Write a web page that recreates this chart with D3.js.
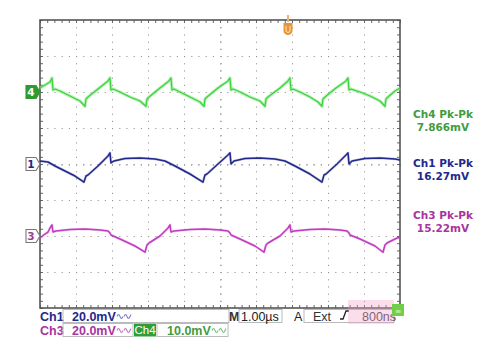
<!DOCTYPE html>
<html>
<head>
<meta charset="utf-8">
<script src="https://cdn.jsdelivr.net/npm/d3@7"></script>
<style>
  html, body { margin: 0; padding: 0; background: #fff; }
  svg { display: block; }
  text { font-family: "DejaVu Sans", "Liberation Sans", sans-serif; }
  text.ro { font-family: "Liberation Sans", Arial, sans-serif; }
</style>
</head>
<body>
<svg id="scope" width="477" height="341"></svg>
<script>
// Time axis: 1.00 µs/div, 10 divisions
const timeDomain = [0, 10];
const divDomain = [-4, 4];

// Channel 1 (20 mV/div, centred) — [µs, mV]
const ch1 = [
  [0,1.67],[0.222,1.11],[0.417,-1.11],[0.694,-3.89],[0.972,-6.67],[1.222,-10.07],
  [1.278,-6.67],[1.333,-6.11],[1.611,-1.11],[1.889,4.44],[1.944,6.2],[1.972,0.56],
  [2.056,1.67],[2.361,3.06],[2.778,3.33],[3.194,2.78],[3.472,1.67],[3.75,-1.11],
  [4.167,-5.56],[4.528,-10.07],[4.583,-6.11],[4.639,-5.56],[4.944,0],[5.222,5.0],
  [5.278,6.2],[5.306,0],[5.389,1.67],[5.694,3.06],[6.111,3.33],[6.528,2.78],
  [6.806,1.67],[7.083,-1.11],[7.5,-5.56],[7.833,-10.07],[7.889,-6.11],[7.944,-5.56],
  [8.25,0],[8.5,5.0],[8.556,6.2],[8.583,0],[8.667,1.67],[9.028,3.06],[9.444,3.33],
  [9.861,2.78],[10,2.22]
];

// Channel 3 (20 mV/div, 2 div below centre)
const ch3 = [
  [0,-1.11],[0.139,1.11],[0.222,2.22],[0.278,4.44],[0.333,6.2],[0.361,2.22],[0.444,2.78],
  [0.833,3.61],[1.25,3.89],[1.667,3.33],[1.889,2.78],[1.944,1.67],[1.972,0.56],
  [2.222,-1.67],[2.639,-5.56],[2.917,-9.02],[2.972,-5.0],[3.028,-3.89],[3.333,0],
  [3.556,4.44],[3.611,6.2],[3.639,2.22],[3.722,2.78],[4.167,3.61],[4.583,3.89],
  [5.0,3.33],[5.222,2.78],[5.278,1.67],[5.306,0.56],[5.556,-1.67],[5.972,-5.56],
  [6.222,-9.02],[6.278,-5.0],[6.333,-3.89],[6.667,0],[6.889,4.44],[6.944,6.2],
  [6.972,2.22],[7.056,2.78],[7.5,3.61],[7.917,3.89],[8.333,3.33],[8.528,2.78],
  [8.583,1.67],[8.611,0.56],[8.889,-1.67],[9.306,-5.56],[9.528,-9.02],[9.583,-5.0],
  [9.639,-3.89],[9.861,-1.67],[10,-0.56]
];

// Channel 4 (10 mV/div, 2 div above centre)
const ch4 = [
  [0,1.11],[0.139,1.94],[0.278,2.78],[0.333,3.9],[0.361,0.56],[0.417,0.83],[0.556,0.28],
  [0.833,-1.11],[1.111,-2.5],[1.25,-3.97],[1.278,-1.94],[1.333,-1.39],[1.611,0.83],
  [1.889,3.06],[1.944,3.9],[1.972,0.56],[2.028,0.83],[2.222,0],[2.5,-1.39],[2.778,-2.5],
  [2.944,-3.97],[2.972,-1.94],[3.028,-1.39],[3.333,1.11],[3.583,3.06],[3.639,3.9],
  [3.667,0.56],[3.722,0.83],[3.889,0],[4.167,-1.39],[4.444,-2.78],[4.556,-3.97],
  [4.583,-1.94],[4.639,-1.39],[4.944,1.11],[5.222,3.06],[5.278,3.9],[5.306,0.56],
  [5.361,0.83],[5.556,0],[5.833,-1.39],[6.111,-2.5],[6.25,-3.97],[6.278,-1.94],
  [6.333,-1.39],[6.667,1.11],[6.889,3.06],[6.944,3.9],[6.972,0.56],[7.028,0.83],
  [7.222,0],[7.5,-1.39],[7.722,-2.78],[7.833,-3.97],[7.861,-1.94],[7.917,-1.39],
  [8.222,1.11],[8.5,3.06],[8.556,3.9],[8.583,0.56],[8.639,0.83],[8.889,0],[9.167,-1.11],
  [9.444,-2.5],[9.583,-3.97],[9.611,-1.94],[9.667,-1.39],[9.861,0.28],[10,1.11]
];

// Channel settings: volts/div and position (divisions)
const channelNames = ["Ch4", "Ch1", "Ch3"];
const channelScales = [10, 20, 20];      // mV/div
const channelOffsets = [2, 0, -2];       // divisions
const channelColors = ["#3ed23e", "#22288c", "#c03cc0"];
const pkpkLabels = ["7.866mV", "16.27mV", "15.22mV"];
const readoutScales = ["10.0mV", "20.0mV", "20.0mV"];
const timebase = "1.00µs";
const triggerText = "800ns";

const svg = d3.select("#scope");
const L = 40, T = 20, R = 400, B = 308;

const x = d3.scaleLinear().domain(timeDomain).range([L, R]);
const yDiv = d3.scaleLinear().domain(divDomain).range([B, T]);

function chScale(i) {
  const s = channelScales[i], o = channelOffsets[i];
  return d3.scaleLinear()
    .domain([(divDomain[0] - o) * s, (divDomain[1] - o) * s])
    .range([B, T]);
}

// graticule: dotted division lines
const gridColor = "#9a9a9a";
const xGrid = d3.axisBottom(x).tickValues(d3.range(1, 10)).tickSize(B - T).tickFormat("");
svg.append("g").attr("transform", `translate(0,${T})`).call(xGrid)
  .call(g => g.select(".domain").remove())
  .selectAll("line").attr("stroke", gridColor).attr("stroke-width", 1)
  .attr("stroke-dasharray", "1.2,6");
const yGrid = d3.axisRight(yDiv).tickValues(d3.range(-3, 4)).tickSize(R - L).tickFormat("");
svg.append("g").attr("transform", `translate(${L},0)`).call(yGrid)
  .call(g => g.select(".domain").remove())
  .selectAll("line").attr("stroke", gridColor).attr("stroke-width", 1)
  .attr("stroke-dasharray", "1.2,6");

// minor ticks along the centre crosshair
const minorX = d3.range(0, 10.01, 0.2);
const minorY = d3.range(-4, 4.01, 0.2);
svg.append("g").attr("transform", `translate(0,${yDiv(0)})`)
  .call(d3.axisBottom(x).tickValues(minorX).tickSize(2).tickFormat(""))
  .call(g => g.select(".domain").remove())
  .selectAll("line").attr("stroke", "#aaa");
svg.append("g").attr("transform", `translate(${x(5)},0)`)
  .call(d3.axisRight(yDiv).tickValues(minorY).tickSize(2).tickFormat(""))
  .call(g => g.select(".domain").remove())
  .selectAll("line").attr("stroke", "#aaa");

// frame ticks (inward)
const frameTick = "#666";
svg.append("g").attr("transform", `translate(0,${T})`)
  .call(d3.axisBottom(x).tickValues(minorX).tickSize(3).tickFormat(""))
  .call(g => g.select(".domain").remove()).selectAll("line").attr("stroke", frameTick);
svg.append("g").attr("transform", `translate(0,${B})`)
  .call(d3.axisTop(x).tickValues(minorX).tickSize(3).tickFormat(""))
  .call(g => g.select(".domain").remove()).selectAll("line").attr("stroke", frameTick);
svg.append("g").attr("transform", `translate(${L},0)`)
  .call(d3.axisRight(yDiv).tickValues(minorY).tickSize(3).tickFormat(""))
  .call(g => g.select(".domain").remove()).selectAll("line").attr("stroke", frameTick);
svg.append("g").attr("transform", `translate(${R},0)`)
  .call(d3.axisLeft(yDiv).tickValues(minorY).tickSize(3).tickFormat(""))
  .call(g => g.select(".domain").remove()).selectAll("line").attr("stroke", frameTick);

// frame
svg.append("rect").attr("x", L).attr("y", T).attr("width", R - L).attr("height", B - T)
  .attr("fill", "none").attr("stroke", "#555").attr("stroke-width", 1.6);

// traces
const traces = [ch4, ch1, ch3];
traces.forEach((data, i) => {
  const y = chScale(i);
  const line = d3.line().x(d => x(d[0])).y(d => y(d[1]));
  if (i === 0) {
    svg.append("path").datum(data).attr("d", line)
      .attr("fill", "none").attr("stroke", "#8ee88e").attr("stroke-width", 3.2)
      .attr("stroke-opacity", 0.6).attr("stroke-linejoin", "round");
  } else {
    svg.append("path").datum(data).attr("d", line)
      .attr("fill", "none").attr("stroke", channelColors[i]).attr("stroke-width", 2.6)
      .attr("stroke-opacity", 0.25).attr("stroke-linejoin", "round");
  }
  svg.append("path").datum(data).attr("d", line)
    .attr("fill", "none").attr("stroke", channelColors[i])
    .attr("stroke-width", i === 0 ? 1.3 : 1.5).attr("stroke-linejoin", "round");
});

// channel ground markers on the left edge
const markerDigits = ["4", "1", "3"];
markerDigits.forEach((m, i) => {
  const cy = yDiv(channelOffsets[i]);
  const filled = i === 0;
  const stroke = filled ? "#2f9a2f" : "#777";
  svg.append("path")
    .attr("d", `M${L - 14},${cy - 6.5} h10 l4,6.5 l-4,6.5 h-10 z`)
    .attr("fill", filled ? "#2f9a2f" : "#fff")
    .attr("stroke", stroke).attr("stroke-width", 1.1);
  svg.append("text").attr("x", L - 9).attr("y", cy + 4)
    .attr("text-anchor", "middle").attr("font-size", 10.5).attr("font-weight", "bold")
    .attr("fill", filled ? "#fff" : (i === 1 ? "#22288c" : "#9b3c9b")).text(m);
});

// trigger position marker
svg.append("line").attr("x1", 288).attr("x2", 288).attr("y1", 15).attr("y2", 22)
  .attr("stroke", "#f0b070").attr("stroke-width", 2);
svg.append("path").attr("d", "M283.5,23 h9 v8 a4.5,4 0 0 1 -9,0 z")
  .attr("fill", "#e8963a");
svg.append("path").attr("d", "M286,26 v4.5 a2,2 0 0 0 4,0 v-4.5")
  .attr("fill", "none").attr("stroke", "#fbe3c4").attr("stroke-width", 1);

// Pk-Pk measurements on the right
const measY = [118, 167, 219];
const measColors = ["#3f9c3f", "#22288c", "#a8349e"];
channelNames.forEach((n, i) => {
  svg.append("text").attr("x", 443).attr("y", measY[i]).attr("text-anchor", "middle")
    .attr("font-size", 10.5).attr("font-weight", "bold").attr("fill", measColors[i])
    .text(`${n} Pk-Pk`);
  svg.append("text").attr("x", 443).attr("y", measY[i] + 13).attr("text-anchor", "middle")
    .attr("font-size", 10.5).attr("font-weight", "bold").attr("fill", measColors[i])
    .text(pkpkLabels[i]);
});

// bottom readout
const boxStroke = "#bbb";
function box(x0, y0, w, h) {
  svg.append("rect").attr("x", x0).attr("y", y0).attr("width", w).attr("height", h)
    .attr("fill", "none").attr("stroke", boxStroke).attr("stroke-width", 1);
}
function label(x0, y0, txt, color, bold, size) {
  return svg.append("text").attr("class", "ro").attr("x", x0).attr("y", y0)
    .attr("font-size", size || 12.5).attr("font-weight", bold ? "bold" : "normal")
    .attr("fill", color).text(txt);
}
function wave(x0, y0, color) {
  // AC/BW coupling glyph
  svg.append("path")
    .attr("d", `M${x0},${y0} q1.5,-4 3,0 t3,0 M${x0 + 7},${y0} q1.5,-4 3,0 t3,0 l1,-2`)
    .attr("fill", "none").attr("stroke", color).attr("stroke-width", 1.1);
}
const rowY = [320.5, 334.5];
// row 1: Ch1
label(40, rowY[0], "Ch1", "#22288c", true);
box(63, 309.5, 166, 13);
label(72, rowY[0], readoutScales[1], "#22288c", true);
wave(117, rowY[0] - 4, "#7a7fc0");
// row 2: Ch3 and Ch4
label(40, rowY[1], "Ch3", "#a8349e", true);
box(63, 323.5, 70, 13);
label(72, rowY[1], readoutScales[2], "#a8349e", true);
wave(117, rowY[1] - 4, "#c07cc0");
svg.append("rect").attr("x", 134).attr("y", 323.5).attr("width", 22).attr("height", 13)
  .attr("fill", "#2e9e3a");
svg.append("text").attr("class", "ro").attr("x", 145).attr("y", rowY[1] - 0.5)
  .attr("text-anchor", "middle").attr("font-size", 11.5).attr("fill", "#fff").text("Ch4");
box(157, 323.5, 71, 13);
label(167, rowY[1], readoutScales[0], "#3f9c3f", true);
wave(212, rowY[1] - 4, "#7cc07c");
// timebase and trigger
label(229, rowY[0], "M", "#333", true);
box(239, 309.5, 43, 13);
label(241, rowY[0], timebase, "#222", false);
label(294, rowY[0], "A", "#222", false);
box(304, 309.5, 90, 13);
label(313, rowY[0], "Ext", "#333", false);
svg.append("path").attr("d", "M340,319 h3 l3,-8 h3").attr("fill", "none")
  .attr("stroke", "#222").attr("stroke-width", 1.3);
label(362, rowY[0], triggerText, "#444", false);
// faint pink haze over the trigger readout
svg.append("rect").attr("x", 348).attr("y", 300).attr("width", 46).attr("height", 24)
  .attr("fill", "#f4a0c8").attr("opacity", 0.35);
svg.append("rect").attr("x", 392).attr("y", 304).attr("width", 12).attr("height", 12)
  .attr("fill", "#6fce4a");
svg.append("text").attr("x", 398).attr("y", 313.5).attr("text-anchor", "middle")
  .attr("font-size", 8).attr("fill", "#d8f4c8").text("≡");
</script>
</body>
</html>
